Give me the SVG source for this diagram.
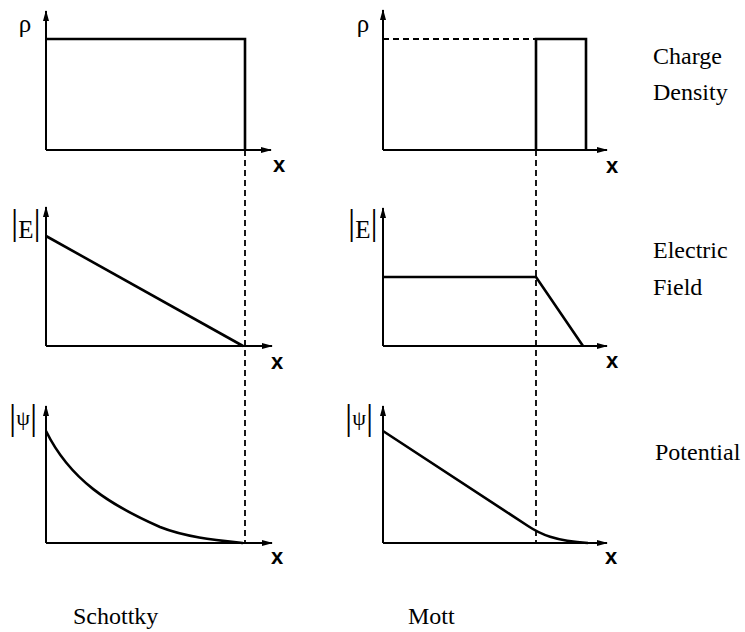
<svg xmlns="http://www.w3.org/2000/svg" width="745" height="632" viewBox="0 0 745 632">
<defs>
<marker id="ah" markerWidth="11" markerHeight="8" refX="10" refY="4" orient="auto" markerUnits="userSpaceOnUse">
<path d="M0,1 L11,4 L0,7 Z" fill="#000"/>
</marker>
<style>
.ax{stroke:#000;stroke-width:2;fill:none}
.cv{stroke:#000;stroke-width:2.6;fill:none;stroke-linejoin:miter}
.ds{stroke:#000;stroke-width:1.8;fill:none;stroke-dasharray:6 4}
.lb{font-family:"Liberation Serif","Times New Roman",serif;font-size:24px;fill:#000}
.gk{font-family:"Liberation Serif","Times New Roman",serif;font-size:25px;fill:#000}
.xl{font-family:"Liberation Sans",Arial,sans-serif;font-size:22px;font-weight:bold;fill:#000;text-anchor:middle}
.bar{font-size:36px}
.psi{font-size:22px}
</style>
</defs>
<rect width="745" height="632" fill="#fff"/>

<g id="connectors">
<line class="ds" x1="245" y1="150" x2="245" y2="543"/>
<line class="ds" x1="536" y1="150" x2="536" y2="543"/>
<line class="ds" x1="383" y1="39" x2="536" y2="39"/>
</g>

<g id="schottky-charge">
<line class="ax" x1="46" y1="150" x2="46" y2="11" marker-end="url(#ah)"/>
<line class="ax" x1="46" y1="150" x2="271" y2="150" marker-end="url(#ah)"/>
<polyline class="cv" points="46,39 245,39 245,150"/>
<text class="gk" x="25" y="32" text-anchor="middle">ρ</text>
<text class="xl" x="279" y="172">x</text>
</g>

<g id="mott-charge">
<line class="ax" x1="383" y1="150" x2="383" y2="10" marker-end="url(#ah)"/>
<line class="ax" x1="383" y1="150" x2="607" y2="150" marker-end="url(#ah)"/>
<polyline class="cv" points="536,150 536,39 586,39 586,150"/>
<text class="gk" x="363" y="32" text-anchor="middle">ρ</text>
<text class="xl" x="612" y="173">x</text>
</g>

<g id="schottky-field">
<line class="ax" x1="46" y1="346" x2="46" y2="207" marker-end="url(#ah)"/>
<line class="ax" x1="46" y1="346" x2="272" y2="346" marker-end="url(#ah)"/>
<polyline class="cv" points="46,236 243,346"/>
<text class="gk" x="11" y="234"><tspan class="bar">|</tspan><tspan dy="4">E</tspan><tspan class="bar" dy="-4">|</tspan></text>
<text class="xl" x="277" y="369">x</text>
</g>

<g id="mott-field">
<line class="ax" x1="383" y1="346" x2="383" y2="208" marker-end="url(#ah)"/>
<line class="ax" x1="383" y1="346" x2="607" y2="346" marker-end="url(#ah)"/>
<polyline class="cv" points="383,277 536,277 583,346"/>
<text class="gk" x="348" y="234"><tspan class="bar">|</tspan><tspan dy="4">E</tspan><tspan class="bar" dy="-4">|</tspan></text>
<text class="xl" x="612" y="368">x</text>
</g>

<g id="schottky-potential">
<line class="ax" x1="46" y1="543" x2="46" y2="406" marker-end="url(#ah)"/>
<line class="ax" x1="46" y1="543" x2="272" y2="543" marker-end="url(#ah)"/>
<path class="cv" d="M46,431 C70,480 110,505 160,527 C185,537 215,540 243,543"/>
<text class="gk" x="9" y="429"><tspan class="bar">|</tspan><tspan class="psi" dy="-4">ψ</tspan><tspan class="bar" dy="4">|</tspan></text>
<text class="xl" x="277" y="564">x</text>
</g>

<g id="mott-potential">
<line class="ax" x1="383" y1="543" x2="383" y2="406" marker-end="url(#ah)"/>
<line class="ax" x1="383" y1="543" x2="607" y2="543" marker-end="url(#ah)"/>
<path class="cv" d="M383,431 L528,526 C540,534 555,541 588,543"/>
<text class="gk" x="345" y="429"><tspan class="bar">|</tspan><tspan class="psi" dy="-4">ψ</tspan><tspan class="bar" dy="4">|</tspan></text>
<text class="xl" x="611" y="564">x</text>
</g>

<g id="labels">
<text class="lb" x="653" y="64">Charge</text>
<text class="lb" x="653" y="100">Density</text>
<text class="lb" x="653" y="258">Electric</text>
<text class="lb" x="653" y="295">Field</text>
<text class="lb" x="655" y="460">Potential</text>
<text class="lb" x="73" y="624">Schottky</text>
<text class="lb" x="408" y="624">Mott</text>
</g>
</svg>
